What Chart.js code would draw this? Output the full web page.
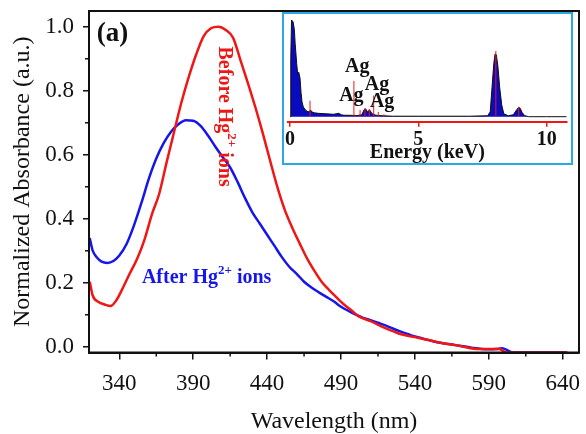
<!DOCTYPE html>
<html>
<head>
<meta charset="utf-8">
<script src="https://cdn.jsdelivr.net/npm/chart.js@4.4.0/dist/chart.umd.min.js"></script>
<style>
  body { margin: 0; background: #fff; }
  #wrap { position: relative; width: 586px; height: 434px; }
  #wrap canvas { display: block; }
  #inset { position: absolute; left: 282px; top: 12px; width: 287px; height: 149px; border: 2px solid #2aa9e6; background: #fff; }
</style>
</head>
<body>
<div id="wrap">
  <canvas id="uvChart" width="586" height="434"></canvas>
  <div id="inset"><canvas id="edsChart" width="287" height="149"></canvas></div>
</div>
<script>
// --- UV-vis spectra (normalized absorbance) ---
const beforeWl  = [320, 322, 326, 330, 334, 338, 342, 347, 352, 357, 362, 367, 372, 377, 382, 387, 392, 397, 402, 407, 412, 417, 422, 427, 432, 437, 442, 447, 452, 457, 462, 467, 472, 477, 482, 487, 492, 497, 502, 510, 520, 530, 540, 550, 560, 570, 580, 590, 597, 602, 610, 620, 630, 643];
const beforeAbs = [0.203, 0.16, 0.14, 0.132, 0.127, 0.145, 0.18, 0.228, 0.274, 0.334, 0.413, 0.478, 0.576, 0.67, 0.763, 0.843, 0.913, 0.97, 0.995, 1.0, 0.99, 0.965, 0.895, 0.824, 0.749, 0.668, 0.582, 0.498, 0.427, 0.372, 0.323, 0.276, 0.237, 0.202, 0.177, 0.154, 0.132, 0.114, 0.095, 0.08, 0.058, 0.04, 0.03, 0.02, 0.01, 0.003, -0.006, -0.007, -0.007, -0.018, -0.018, -0.018, -0.018, -0.018];

const afterWl  = [320, 322, 325, 328, 332, 336, 340, 345, 350, 355, 360, 365, 370, 375, 380, 385, 390, 395, 400, 405, 410, 415, 420, 425, 430, 435, 440, 445, 450, 455, 460, 465, 470, 475, 480, 485, 490, 495, 500, 505, 510, 515, 520, 525, 530, 535, 540, 545, 550, 555, 560, 565, 570, 575, 580, 585, 590, 595, 599, 603, 606, 620, 643];
const afterAbs = [0.34, 0.30, 0.278, 0.266, 0.262, 0.268, 0.285, 0.322, 0.38, 0.45, 0.525, 0.588, 0.636, 0.672, 0.695, 0.708, 0.706, 0.69, 0.66, 0.625, 0.592, 0.56, 0.515, 0.465, 0.42, 0.385, 0.35, 0.315, 0.28, 0.25, 0.228, 0.203, 0.185, 0.17, 0.156, 0.142, 0.125, 0.112, 0.1, 0.09, 0.083, 0.075, 0.067, 0.057, 0.048, 0.04, 0.032, 0.026, 0.02, 0.014, 0.01, 0.007, 0.003, 0.0, -0.004, -0.007, -0.008, -0.007, -0.005, -0.012, -0.018, -0.018, -0.018];

const xMajorTicks = [340, 390, 440, 490, 540, 590, 640];
const xMinorTicks = [365, 415, 465, 515, 565, 615];
const yMajorTicks = [0, 0.2, 0.4, 0.6, 0.8, 1.0];
const yMinorTicks = [0.1, 0.3, 0.5, 0.7, 0.9];

// --- EDS inset ---
const edsKeV    = [0.0, 0.03, 0.06, 0.12, 0.17, 0.2, 0.26, 0.3, 0.34, 0.39, 0.43, 0.47, 0.52, 0.6, 0.7, 0.76, 0.8, 0.85, 0.95, 1.1, 1.4, 1.7, 1.9, 2.0, 2.1, 2.3, 2.6, 2.8, 2.88, 2.95, 3.02, 3.1, 3.2, 3.35, 3.6, 4.0, 5.0, 6.0, 7.0, 7.7, 7.8, 7.87, 7.94, 7.99, 8.04, 8.1, 8.17, 8.25, 8.33, 8.5, 8.7, 8.8, 8.9, 8.96, 9.05, 9.15, 9.3, 10.0, 10.78];
const edsCounts = [0, 60, 100, 98, 90, 76, 55, 44, 46, 40, 25, 15, 10, 7, 5, 5.5, 7, 5, 4, 3.5, 3, 2.5, 3.5, 2, 1.5, 1.5, 1.2, 2, 7, 8, 5, 7, 3, 1.5, 1, 0.5, 0.5, 0.5, 0.5, 1, 5, 30, 55, 65, 64, 52, 30, 12, 3, 1, 2, 6, 9.5, 9, 4, 1, 0, 0, 0];
const edsLineKeV = [0.78, 2.49, 2.73, 2.92, 3.09, 3.26, 3.44, 3.66, 8.02, 8.91];
const edsLineTop = [16.5, 37, 7, 9, 8, 22, 5, 2.5, 68, 10.3];
const edsTicks = [0, 5, 10];
const agLabelKeV = [2.62, 3.39, 2.39, 3.59];
const agLabelTop = [46.5, 27.6, 16.5, 10.3];

const RED = 'rgb(240,22,22)';
const BLUE = 'rgb(22,22,235)';
const SERIF = '"Liberation Serif", "Times New Roman", serif';

// text with a superscript, e.g. Hg2+
function drawIonLabel(ctx, x0, y0, pre, sup, post, color) {
    ctx.fillStyle = color;
    ctx.textAlign = 'left';
    ctx.textBaseline = 'alphabetic';
    ctx.font = 'bold 20px ' + SERIF;
    ctx.fillText(pre, x0, y0);
    let w = ctx.measureText(pre).width;
    ctx.font = 'bold 13px ' + SERIF;
    ctx.fillText(sup, x0 + w, y0 - 9);
    w += ctx.measureText(sup).width;
    ctx.font = 'bold 20px ' + SERIF;
    ctx.fillText(post, x0 + w, y0);
}

const uvDecor = {
    id: 'uvDecor',
    afterDraw(chart) {
        const { ctx, chartArea: a, scales: { x, y } } = chart;
        ctx.save();
        // minor ticks
        ctx.strokeStyle = '#111';
        ctx.lineWidth = 1.5;
        ctx.beginPath();
        xMinorTicks.forEach(v => { const px = x.getPixelForValue(v); ctx.moveTo(px, a.bottom); ctx.lineTo(px, a.bottom + 4); });
        yMinorTicks.forEach(v => { const py = y.getPixelForValue(v); ctx.moveTo(a.left, py); ctx.lineTo(a.left - 4, py); });
        ctx.stroke();
        // frame
        ctx.lineWidth = 2;
        ctx.strokeRect(a.left, a.top, a.right - a.left, a.bottom - a.top);

        // (a)
        ctx.fillStyle = '#111';
        ctx.font = 'bold 27px ' + SERIF;
        ctx.textBaseline = 'alphabetic';
        ctx.fillText('(a)', x.getPixelForValue(324.7), y.getPixelForValue(0.956));

        drawIonLabel(ctx, x.getPixelForValue(355.3), y.getPixelForValue(0.198), 'After Hg', '2+', ' ions', BLUE);

        ctx.translate(x.getPixelForValue(407.6), y.getPixelForValue(0.938));
        ctx.rotate(Math.PI / 2);
        drawIonLabel(ctx, 0, 0, 'Before Hg', '2+', ' ions', RED);
        ctx.restore();
    }
};

new Chart(document.getElementById('uvChart'), {
    type: 'line',
    data: {
        datasets: [
            { label: 'Before Hg2+ ions', data: beforeWl.map((w, i) => ({ x: w, y: beforeAbs[i] })),
              borderColor: RED, borderWidth: 2.5, pointRadius: 0, cubicInterpolationMode: 'monotone' },
            { label: 'After Hg2+ ions', data: afterWl.map((w, i) => ({ x: w, y: afterAbs[i] })),
              borderColor: BLUE, borderWidth: 2.5, pointRadius: 0, cubicInterpolationMode: 'monotone' }
        ]
    },
    options: {
        responsive: false,
        animation: false,
        devicePixelRatio: 1,
        layout: { padding: { top: 11, right: 7, left: 0, bottom: 0 } },
        plugins: { legend: { display: false }, tooltip: { enabled: false } },
        scales: {
            x: {
                type: 'linear', min: 319.5, max: 651,
                afterBuildTicks: s => { s.ticks = xMajorTicks.map(v => ({ value: v })); },
                afterFit: s => { s.height = 81.5; s.paddingLeft = 0; s.paddingRight = 0; },
                grid: { drawOnChartArea: false, color: '#111', lineWidth: 1.5, tickLength: 7 },
                border: { color: '#111', width: 2 },
                ticks: { color: '#111', font: { family: SERIF, size: 23 }, padding: 11, maxRotation: 0, autoSkip: false },
                title: { display: true, text: 'Wavelength (nm)', color: '#111', font: { family: SERIF, size: 24, lineHeight: 1 }, padding: { top: 0, bottom: 0 } }
            },
            y: {
                min: -0.018, max: 1.049,
                afterBuildTicks: s => { s.ticks = yMajorTicks.map(v => ({ value: v })); },
                afterFit: s => { s.width = 89; s.paddingTop = 0; s.paddingBottom = 0; },
                grid: { drawOnChartArea: false, color: '#111', lineWidth: 1.5, tickLength: 6 },
                border: { color: '#111', width: 2 },
                ticks: { color: '#111', font: { family: SERIF, size: 23 }, padding: 9, callback: v => v.toFixed(1) },
                title: { display: true, text: 'Normalized Absorbance (a.u.)', color: '#111', font: { family: SERIF, size: 24, lineHeight: 1 }, padding: { top: 11, bottom: 0 } }
            }
        }
    },
    plugins: [uvDecor]
});

// --- inset chart ---
const edsLinePoints = [];
edsLineKeV.forEach((k, i) => {
    edsLinePoints.push({ x: k, y: 0 }, { x: k, y: edsLineTop[i] }, { x: k, y: null });
});

const agLabels = {
    id: 'agLabels',
    afterDatasetsDraw(chart) {
        const { ctx, scales: { x, y } } = chart;
        ctx.save();
        ctx.fillStyle = '#111';
        ctx.font = 'bold 20px ' + SERIF;
        ctx.textAlign = 'center';
        ctx.textBaseline = 'alphabetic';
        agLabelKeV.forEach((k, i) => ctx.fillText('Ag', x.getPixelForValue(k), y.getPixelForValue(agLabelTop[i])));
        ctx.restore();
    }
};

new Chart(document.getElementById('edsChart'), {
    type: 'line',
    data: {
        datasets: [
            { data: edsLinePoints, borderColor: RED, borderWidth: 1, pointRadius: 0, spanGaps: false, fill: false, order: 0 },
            { data: edsKeV.map((k, i) => ({ x: k, y: edsCounts[i] })), borderColor: '#111', borderWidth: 1,
              backgroundColor: 'rgb(10,10,190)', fill: { value: 0 }, pointRadius: 0, tension: 0, order: 1 }
        ]
    },
    options: {
        responsive: false,
        animation: false,
        devicePixelRatio: 1,
        layout: { padding: { left: 4, right: 4.3, top: 6, bottom: 0 } },
        plugins: { legend: { display: false }, tooltip: { enabled: false } },
        scales: {
            x: {
                type: 'linear', min: -0.078, max: 10.78,
                afterBuildTicks: s => { s.ticks = edsTicks.map(v => ({ value: v })); },
                afterFit: s => { s.height = 41.3; s.paddingLeft = 0; s.paddingRight = 0; },
                grid: { drawOnChartArea: false, color: RED, lineWidth: 1.5, tickLength: 5 },
                border: { color: RED, width: 2 },
                ticks: { color: '#111', font: { family: SERIF, size: 20, weight: 'bold' }, padding: 1, maxRotation: 0, autoSkip: false },
                title: { display: true, text: 'Energy (keV)', color: '#111', font: { family: SERIF, size: 20, weight: 'bold', lineHeight: 1 }, padding: { top: 0, bottom: 0 } }
            },
            y: { display: false, min: -5.17, max: 100 }
        }
    },
    plugins: [agLabels]
});
</script>
</body>
</html>
